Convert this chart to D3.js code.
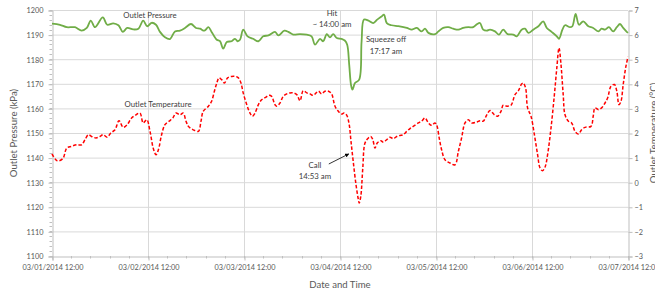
<!DOCTYPE html>
<html><head><meta charset="utf-8">
<script src="https://cdn.jsdelivr.net/npm/d3@7"></script>
<style>
body{margin:0;background:#fff;}
svg{display:block;font-family:Lato,"Open Sans",sans-serif;}
</style>
</head><body>
<svg id="c" width="655" height="296"></svg>
<script>
// ---------------- DATA ----------------
const startTime = "2014-03-01T12:00:00";
const endTime   = "2014-03-07T12:00:00";
const xTickTimes  = ["2014-03-01T12:00:00","2014-03-02T12:00:00","2014-03-03T12:00:00","2014-03-04T12:00:00","2014-03-05T12:00:00","2014-03-06T12:00:00","2014-03-07T12:00:00"];
const xTickLabels = ["03/01/2014 12:00","03/02/2014 12:00","03/03/2014 12:00","03/04/2014 12:00","03/05/2014 12:00","03/06/2014 12:00","03/07/2014 12:00"];
const pressureTicks = [1100,1110,1120,1130,1140,1150,1160,1170,1180,1190,1200];
const tempTicks = [-3,-2,-1,0,1,2,3,4,5,6,7];

// hours elapsed since 03/01/2014 12:00
const pressureHours = [0,2,3.7,5.75,7.4,8.7,9.7,10.75,12.7,13.8,15.3,16.6,17.7,18.8,20.3,21.6,22.8,23.8,24.9,26,27,28.25,29.5,30.75,32,33.25,34.75,36,37,38.1,39.1,39.9,41.2,42,42.8,43.7,44.9,45.75,46.4,47,47.8,48.9,50.3,51.6,52.8,54.1,55.75,56.6,58.1,59.1,60.3,62,63.7,64.9,65.75,67,67.8,68.7,69.5,70.3,71.2,72.4,73.2,73.8,74.3,74.75,75.1,75.75,76.8,77.4,78,79.1,80.3,81.3,82.4,83,83.7,84.9,86.6,88.7,89.9,91.2,92.4,93.25,94.1,95.75,96.6,97.8,99.1,100.3,101.6,102.8,104.1,105.3,106.3,107,107.8,108.7,109.5,110.75,111.75,112.8,113.9,115.3,116.2,117.4,118.25,119.1,120.3,121.6,122.8,123.7,124.9,126.2,126.75,127.6,128.25,129.5,130.1,130.9,131.75,132.8,134.1,135.3,136.6,137.4,138.25,139.25,140.3,141.2,142,142.8,143.7,144];
const pressureKPa = [1194.5,1194.0,1193.0,1193.0,1191.6,1192.7,1195.7,1193.0,1197.0,1194.0,1194.6,1193.8,1191.1,1192.7,1192.1,1192.4,1195.7,1193.4,1194.8,1194.0,1191.1,1188.9,1188.2,1191.3,1191.6,1192.7,1194.3,1192.7,1192.4,1191.6,1193.0,1191.1,1187.9,1187.3,1184.3,1187.0,1187.3,1188.3,1187.3,1187.9,1192.0,1189.3,1188.3,1187.3,1189.3,1189.7,1191.1,1189.7,1191.6,1191.1,1190.0,1190.2,1190.0,1189.3,1185.9,1188.3,1187.3,1190.2,1188.9,1190.2,1188.6,1188.3,1187.6,1185.9,1177.8,1169.6,1167.6,1170.3,1171.7,1187.3,1196.1,1195.7,1194.7,1196.1,1197.4,1198.1,1194.7,1193.8,1193.4,1192.7,1192.0,1192.7,1191.3,1192.4,1190.7,1190.2,1191.3,1192.7,1193.0,1192.4,1192.0,1192.7,1193.0,1193.0,1194.3,1194.7,1192.0,1191.6,1192.0,1191.3,1190.0,1192.0,1190.2,1190.0,1189.3,1192.0,1192.4,1190.7,1192.0,1193.4,1195.4,1192.7,1191.1,1189.3,1188.3,1192.0,1193.8,1193.0,1193.4,1198.4,1194.0,1195.4,1193.4,1192.7,1191.3,1192.4,1192.0,1193.0,1191.3,1193.0,1194.3,1192.7,1191.1,1190.7];

const tempHours = [0,1.3,2.7,3.7,4.9,6.2,7.4,8.25,9.1,9.9,11,12,12.8,13.8,14.7,15.75,16.75,17.8,18.8,19.9,21,22,22.8,23.7,24.5,25.3,26,26.6,27.4,28.25,29.3,30.2,31,32,32.8,33.5,34.1,35.3,36.6,37.25,37.8,39.1,39.9,40.6,41.2,41.75,42.4,43.1,43.9,44.9,45.9,46.6,47.25,47.8,48.7,49.5,50.1,50.75,51.6,52.4,53.4,54.25,54.9,55.75,56.2,57,57.8,58.7,59.5,60.3,61.2,62,62.8,63.7,64.5,65.3,66.6,67.4,68.25,69.1,69.9,70.75,71.6,72.4,73,73.7,74.3,74.75,75.3,76,76.6,76.8,77.2,77.7,78.25,79.1,79.7,80.2,80.75,81.3,82.2,82.8,83.7,84.5,85.3,86.2,87,87.8,88.7,89.5,90.3,91.6,92.4,93.25,94.1,94.9,95.75,96.2,96.8,97.4,98.25,99.5,100.75,101.6,102.4,103.25,104.1,104.9,106.2,107,107.8,108.7,109.5,110.6,111.4,112.25,112.8,113.7,114.75,115.75,116.6,117.4,117.8,118.4,118.9,119.75,120.6,121.4,122,122.6,123.25,123.9,124.75,125.6,126.2,126.75,127.25,127.8,128.25,129.1,129.9,130.75,131.6,132.4,133.25,134.75,135.3,135.75,136.6,137.4,138.25,138.9,139.75,140.6,141.2,141.75,142.25,142.8,143.4,144];
const tempC = [1.15,0.87,0.96,1.39,1.46,1.52,1.52,1.73,1.93,1.86,1.80,1.86,1.93,1.83,2.0,2.13,2.50,2.23,2.34,2.61,2.74,2.81,2.41,2.54,2.07,1.39,1.12,1.32,1.93,2.34,2.48,2.61,2.81,2.74,2.81,2.48,2.27,2.13,2.07,2.48,2.88,3.09,3.29,3.70,4.03,4.24,4.17,4.03,4.24,4.30,4.30,4.24,4.03,3.63,3.15,2.81,2.68,2.81,3.15,3.35,3.45,3.53,3.49,3.15,3.09,3.22,3.49,3.59,3.63,3.63,3.56,3.31,3.72,3.63,3.59,3.53,3.70,3.59,3.70,3.70,3.59,3.09,2.88,2.77,2.81,2.72,2.34,1.66,0.85,-0.10,-0.71,-0.85,-0.57,0.58,1.59,1.80,1.86,1.73,1.39,1.59,1.69,1.63,1.73,1.83,1.77,1.86,1.90,1.93,2.07,2.18,2.27,2.41,2.48,2.61,2.41,2.31,2.41,2.31,1.80,1.32,0.91,0.78,0.71,1.26,1.80,2.41,2.54,2.41,2.45,2.50,2.48,2.74,2.91,2.74,2.68,2.88,3.13,3.09,3.13,3.56,3.72,3.99,4.03,3.83,3.02,2.68,1.93,1.12,0.58,0.47,0.61,1.12,2.20,3.56,4.64,5.46,4.78,3.56,2.74,2.48,2.41,2.07,1.96,2.13,2.23,2.27,2.68,3.02,2.95,3.02,3.22,3.42,3.90,3.97,3.70,3.15,3.29,3.97,4.64,5.1];

// annotations: [text, hours, pressure-axis value]
const noteTexts  = ["Outlet Pressure","Outlet Temperature","Hit","~ 14:00 am","Squeeze off","17:17 am","Call","14:53 am"];
const noteHours  = [24.5,26.5,70,70,83.5,83.5,65.75,65.75];
const noteValues = [1198.0,1161.8,1198.6,1194.1,1188.0,1183.3,1137.0,1132.3];
// arrow (hours, °C): from -> to
const arrowHours = [69.2,74.2];
const arrowTemps = [0.74,1.15];

// ---------------- CHART ----------------
const W=655,H=296, L=52, R=628, T=10, B=256;
const svg=d3.select("#c");
const t0=new Date(startTime).getTime();
const hToDate=h=>new Date(t0+h*3600e3);
const x=d3.scaleTime().domain([new Date(startTime),new Date(endTime)]).range([L,R]);
const yP=d3.scaleLinear().domain([1100,1200]).range([B,T]);
const yT=d3.scaleLinear().domain([-3,7]).range([B,T]);
const gridC="#d9d9d9", axisC="#bfbfbf", txtC="#595959";

// gridlines
svg.append("g").selectAll("line").data(pressureTicks.slice(1)).join("line")
  .attr("x1",L).attr("x2",R).attr("y1",d=>yP(d)+0.5).attr("y2",d=>yP(d)+0.5)
  .attr("stroke",gridC).attr("stroke-width",1);
svg.append("g").selectAll("line").data(xTickTimes.slice(1,-1)).join("line")
  .attr("x1",d=>Math.round(x(new Date(d)))+0.5).attr("x2",d=>Math.round(x(new Date(d)))+0.5)
  .attr("y1",T).attr("y2",B).attr("stroke",gridC).attr("stroke-width",1);

// minor ticks
const minorP=d3.range(1100,1200.1,2);
svg.append("g").selectAll("line").data(minorP).join("line")
  .attr("x1",L-2.5).attr("x2",L).attr("y1",d=>Math.round(yP(d))+0.5).attr("y2",d=>Math.round(yP(d))+0.5)
  .attr("stroke",axisC);
const minorX=d3.range(0,144.01,4.8);
svg.append("g").selectAll("line").data(minorX).join("line")
  .attr("x1",d=>Math.round(x(hToDate(d)))+0.5).attr("x2",d=>Math.round(x(hToDate(d)))+0.5)
  .attr("y1",B).attr("y2",B+2.5).attr("stroke",axisC);

// axes
const axL=d3.axisLeft(yP).tickValues(pressureTicks).tickFormat(d3.format("d")).tickSize(4).tickPadding(5);
const gL=svg.append("g").attr("transform",`translate(${L+0.5},0.5)`).call(axL);
const axRt=d3.axisRight(yT).tickValues(tempTicks).tickFormat(d3.format("d")).tickSize(4).tickPadding(2);
const gR=svg.append("g").attr("transform",`translate(${R+0.5},0.5)`).call(axRt);
const axB=d3.axisBottom(x).tickValues(xTickTimes.map(d=>new Date(d))).tickFormat((d,i)=>xTickLabels[i]).tickSize(4).tickPadding(4);
const gB=svg.append("g").attr("transform",`translate(0.5,${B+0.5})`).call(axB);
[gL,gR,gB].forEach(g=>{
  g.select(".domain").attr("stroke",axisC);
  g.selectAll(".tick line").attr("stroke",axisC);
  g.selectAll(".tick text").attr("fill",txtC).attr("font-size",7.3).attr("font-family","Lato");
});

// lines
const curve=d3.curveCatmullRom.alpha(0.5);
const pData=pressureHours.map((h,i)=>[hToDate(h),pressureKPa[i]]);
const tData=tempHours.map((h,i)=>[hToDate(h),tempC[i]]);
svg.append("path").datum(pData)
  .attr("d",d3.line().x(d=>x(d[0])).y(d=>yP(d[1])).curve(curve))
  .attr("fill","none").attr("stroke","#70ad47").attr("stroke-width",1.8).attr("stroke-linejoin","round");
svg.append("path").datum(tData)
  .attr("d",d3.line().x(d=>x(d[0])).y(d=>yT(d[1])).curve(curve))
  .attr("fill","none").attr("stroke","#ff0000").attr("stroke-width",1.5).attr("stroke-dasharray","3.5,2");

// annotations
svg.append("g").selectAll("text").data(noteTexts).join("text")
  .attr("x",(d,i)=>x(hToDate(noteHours[i]))).attr("y",(d,i)=>yP(noteValues[i]))
  .attr("dy","0.35em").attr("text-anchor","middle")
  .attr("font-size",7.8).attr("fill","#404040").text(d=>d);

svg.append("defs").append("marker").attr("id","ah").attr("viewBox","0 0 10 10")
  .attr("refX",9).attr("refY",5).attr("markerWidth",5).attr("markerHeight",5).attr("orient","auto")
  .append("path").attr("d","M0,0L10,5L0,10z").attr("fill","#000");
svg.append("line")
  .attr("x1",x(hToDate(arrowHours[0]))).attr("y1",yT(arrowTemps[0]))
  .attr("x2",x(hToDate(arrowHours[1]))).attr("y2",yT(arrowTemps[1]))
  .attr("stroke","#000").attr("stroke-width",0.8).attr("marker-end","url(#ah)");

// axis titles
svg.append("text").attr("transform",`translate(16.5,${(T+B)/2}) rotate(-90)`)
  .attr("text-anchor","middle").attr("font-size",9.6).attr("fill",txtC).text("Outlet Pressure (kPa)");
svg.append("text").attr("transform",`translate(657,${(T+B)/2}) rotate(-90)`)
  .attr("text-anchor","middle").attr("font-size",9.6).attr("fill",txtC).text("Outlet Temperature (°C)");
svg.append("text").attr("x",(L+R)/2).attr("y",288)
  .attr("text-anchor","middle").attr("font-size",9.6).attr("fill",txtC).text("Date and Time");
</script>
</body></html>
